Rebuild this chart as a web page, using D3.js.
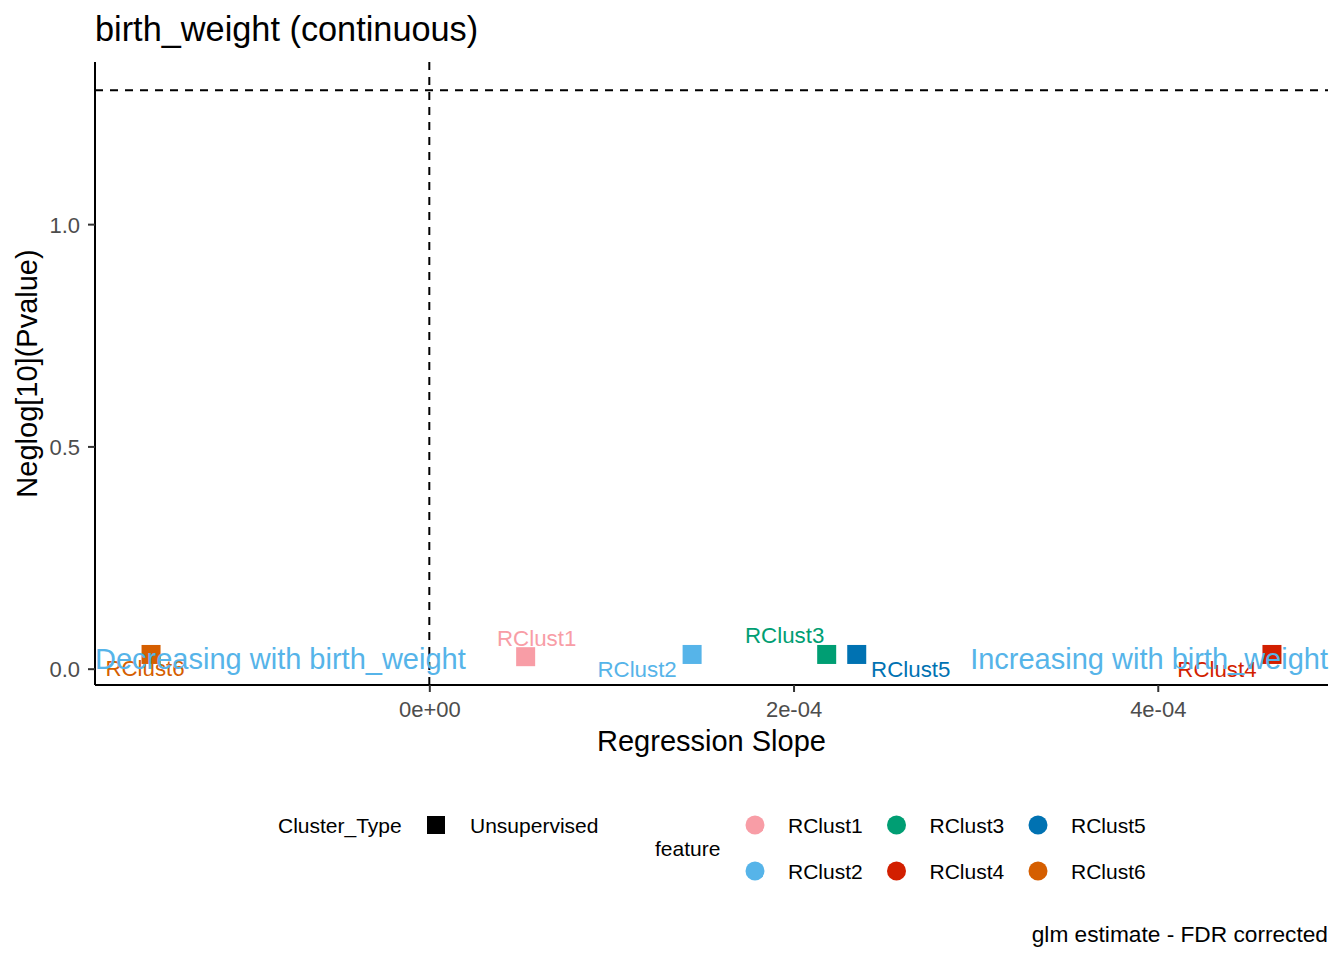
<!DOCTYPE html>
<html>
<head>
<meta charset="utf-8">
<script src="https://cdn.jsdelivr.net/npm/d3@7"></script>
<style>
  body { margin: 0; background: #fff; }
  text { font-family: "Liberation Sans", Arial, sans-serif; }
</style>
</head>
<body>
<script>
// Data
const features = ["RClust1", "RClust2", "RClust3", "RClust4", "RClust5", "RClust6"];
const slopes = [5.29e-5, 1.443e-4, 2.182e-4, 4.627e-4, 2.347e-4, -1.528e-4];
const negLogP = [0.027, 0.032, 0.032, 0.032, 0.032, 0.032];
const clusterTypes = ["Unsupervised"];
const palette = ["#F89DA6", "#56B4E9", "#009E73", "#D21F00", "#0072B2", "#D55E00"];
const xTicks = [0, 2e-4, 4e-4];
const xTickLabels = ["0e+00", "2e-04", "4e-04"];
const yTicks = [0, 0.5, 1.0];
const yTickLabels = ["0.0", "0.5", "1.0"];
const pCutoff = 0.05;

const width = 1344;
const height = 960;
const panel = { left: 95, right: 1328, top: 62, bottom: 685 };

const rows = features.map((f, i) => ({ feature: f, slope: slopes[i], p: negLogP[i] }));
const color = d3.scaleOrdinal().domain(features).range(palette);

// ggplot-like 5% expansion
function expand(ext) {
  const pad = (ext[1] - ext[0]) * 0.05;
  return [ext[0] - pad, ext[1] + pad];
}
const hline = -Math.log10(pCutoff);

const x = d3.scaleLinear()
  .domain(expand(d3.extent(slopes.concat([0]))))
  .range([panel.left, panel.right]);
const y = d3.scaleLinear()
  .domain(expand(d3.extent(negLogP.concat([hline]))))
  .range([panel.bottom, panel.top]);

const svg = d3.select("body").append("svg")
  .attr("width", width)
  .attr("height", height);

// title
svg.append("text")
  .attr("x", 95).attr("y", 41)
  .style("font-size", "34.3px")
  .text("birth_weight (continuous)");

// reference lines
svg.append("line")
  .attr("x1", panel.left).attr("x2", panel.right)
  .attr("y1", y(hline)).attr("y2", y(hline))
  .attr("stroke", "#000").attr("stroke-width", 2).attr("stroke-dasharray", "8,7");
svg.append("line")
  .attr("x1", x(0)).attr("x2", x(0))
  .attr("y1", panel.top).attr("y2", panel.bottom)
  .attr("stroke", "#000").attr("stroke-width", 2).attr("stroke-dasharray", "8,7");

// axes
const xAxis = svg.append("g")
  .attr("transform", `translate(0,${panel.bottom})`)
  .call(d3.axisBottom(x).tickValues(xTicks).tickFormat((d, i) => xTickLabels[i]).tickSize(7).tickSizeOuter(0));
const yAxis = svg.append("g")
  .attr("transform", `translate(${panel.left},0)`)
  .call(d3.axisLeft(y).tickValues(yTicks).tickFormat((d, i) => yTickLabels[i]).tickSize(7).tickSizeOuter(0));

[xAxis, yAxis].forEach(g => {
  g.select(".domain").attr("stroke", "#000").attr("stroke-width", 2);
  g.selectAll(".tick line").attr("stroke", "#333").attr("stroke-width", 2);
  g.selectAll(".tick text")
    .attr("fill", "#4d4d4d")
    .style("font-size", "22px")
    .style("font-family", "'Liberation Sans', Arial, sans-serif");
});
xAxis.selectAll(".tick text").attr("dy", 0).attr("y", 32);
yAxis.selectAll(".tick text").attr("x", -15).attr("dy", "0.36em");
// redraw domain lines to span the whole panel
xAxis.select(".domain").attr("d", `M${panel.left},0H${panel.right}`);
yAxis.select(".domain").attr("d", `M0,${panel.top}V${panel.bottom}`);

// axis titles
svg.append("text")
  .attr("x", (panel.left + panel.right) / 2).attr("y", 751)
  .attr("text-anchor", "middle")
  .style("font-size", "29px")
  .text("Regression Slope");
svg.append("text")
  .attr("transform", `translate(37,${(panel.top + panel.bottom) / 2}) rotate(-90)`)
  .attr("text-anchor", "middle")
  .style("font-size", "29px")
  .text("Neglog[10](Pvalue)");

// points
const sq = 19;
svg.append("g").selectAll("rect")
  .data(rows)
  .enter().append("rect")
  .attr("x", d => x(d.slope) - sq / 2)
  .attr("y", d => y(d.p) - sq / 2)
  .attr("width", sq).attr("height", sq)
  .attr("fill", d => color(d.feature));

// repelled label offsets (layout only)
const labelOffset = {
  RClust1: [11, -11], RClust2: [-55, 23], RClust3: [-42, -11],
  RClust4: [-55, 23], RClust5: [54, 23], RClust6: [-6, 22]
};
svg.append("g").selectAll("text")
  .data(rows)
  .enter().append("text")
  .attr("x", d => x(d.slope) + labelOffset[d.feature][0])
  .attr("y", d => y(d.p) + labelOffset[d.feature][1])
  .attr("text-anchor", "middle")
  .attr("fill", d => color(d.feature))
  .style("font-size", "22.3px")
  .text(d => d.feature);

// direction annotations
svg.append("text")
  .attr("x", panel.left).attr("y", y(0))
  .attr("fill", "#56B4E9")
  .style("font-size", "29px")
  .text("Decreasing with birth_weight");
svg.append("text")
  .attr("x", panel.right).attr("y", y(0))
  .attr("text-anchor", "end")
  .attr("fill", "#56B4E9")
  .style("font-size", "29px")
  .text("Increasing with birth_weight");

// legends
const lg = svg.append("g").style("font-size", "21px");
lg.append("text").attr("x", 278).attr("y", 833).text("Cluster_Type");
lg.selectAll("rect.ct")
  .data(clusterTypes)
  .enter().append("rect")
  .attr("class", "ct")
  .attr("x", 427).attr("y", 816).attr("width", 18).attr("height", 18)
  .attr("fill", "#000");
lg.selectAll("text.ct")
  .data(clusterTypes)
  .enter().append("text")
  .attr("class", "ct")
  .attr("x", 470).attr("y", 833)
  .text(d => d);

lg.append("text").attr("x", 655).attr("y", 856).text("feature");
const keys = lg.selectAll("g.key")
  .data(features)
  .enter().append("g")
  .attr("class", "key")
  .attr("transform", (d, i) => `translate(${755 + Math.floor(i / 2) * 141.5},${825 + (i % 2) * 46})`);
keys.append("circle")
  .attr("r", 9.5)
  .attr("fill", d => color(d));
keys.append("text")
  .attr("x", 33).attr("y", 8)
  .text(d => d);

// caption
svg.append("text")
  .attr("x", 1328).attr("y", 942)
  .attr("text-anchor", "end")
  .style("font-size", "22.7px")
  .text("glm estimate - FDR corrected");
</script>
</body>
</html>
